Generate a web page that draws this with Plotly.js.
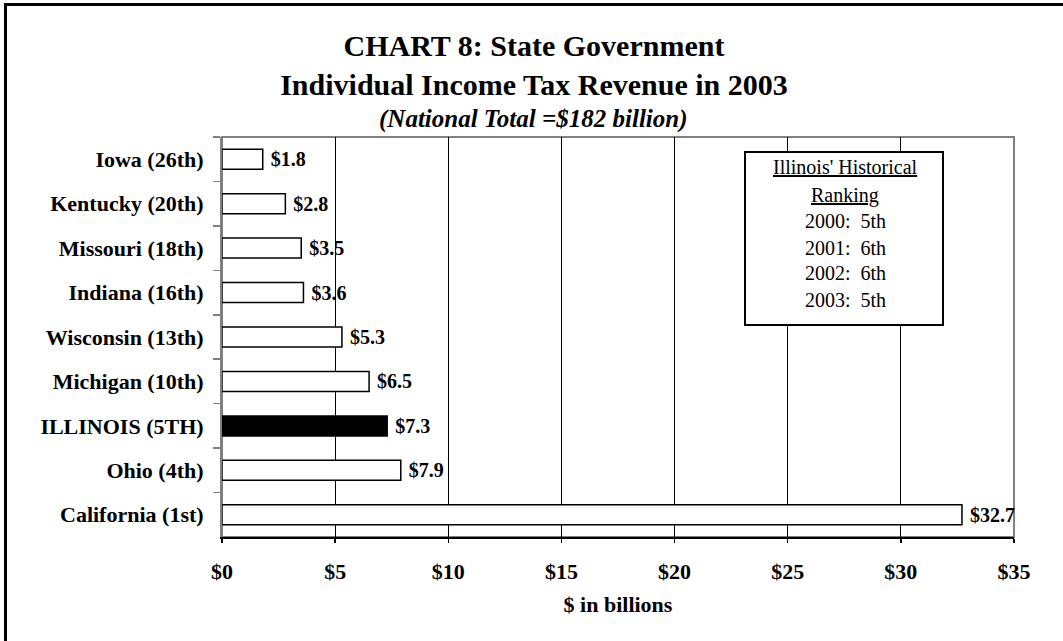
<!DOCTYPE html>
<html>
<head>
<meta charset="utf-8">
<script src="https://cdn.plot.ly/plotly-3.0.1.min.js"></script>
<style>
  html, body { margin: 0; padding: 0; overflow: hidden; background: #fff; }
  #chart { width: 1063px; height: 641px; }
  #frame { position: absolute; left: 4px; top: 3px; width: 1200px; height: 800px;
           border: 3px solid #000; pointer-events: none; }
</style>
</head>
<body>
<div id="chart"></div>
<div id="frame"></div>
<script>
// Categories listed top to bottom as in the chart
var states = ["Iowa (26th)", "Kentucky (20th)", "Missouri (18th)", "Indiana (16th)",
              "Wisconsin (13th)", "Michigan (10th)", "ILLINOIS (5TH)", "Ohio (4th)", "California (1st)"];
var revenue = [1.8, 2.8, 3.5, 3.6, 5.3, 6.5, 7.3, 7.9, 32.7];
var highlight = "ILLINOIS (5TH)";
var xTickVals = [0, 5, 10, 15, 20, 25, 30, 35];
var xTickText = ["$0", "$5", "$10", "$15", "$20", "$25", "$30", "$35"];
var boxLines = ["<u>Illinois' Historical</u>", "<u>Ranking</u>",
                "2000:  5th", "2001:  6th", "2002:  6th", "2003:  5th"];

var serif = "'Liberation Serif', 'Times New Roman', Times, serif";

var fills = states.map(function (s) { return s === highlight ? "#000000" : "#ffffff"; });

var trace = {
  type: "bar",
  orientation: "h",
  y: states,
  x: revenue,
  width: 0.45,
  marker: { color: fills, line: { color: "#000000", width: 1.5 } },
  texttemplate: "\u00a0$%{x:.1f}",
  textposition: "outside",
  constraintext: "none",
  cliponaxis: false,
  textfont: { family: serif, size: 20, color: "#000", weight: "bold" },
  hoverinfo: "none"
};

// Legend-box text lines positioned inside the box
var lineY = [0.925, 0.855, 0.79, 0.7225, 0.66, 0.5925];
var annotations = boxLines.map(function (t, i) {
  return {
    xref: "paper", yref: "paper", x: 0.787, y: lineY[i],
    xanchor: "center", yanchor: "middle", showarrow: false,
    text: t, font: { family: serif, size: 20, color: "#000" }
  };
});
annotations.push({
  xref: "paper", yref: "paper", x: (533 - 222) / 792, xanchor: "center",
  y: (537 - 119) / 400, yanchor: "middle", showarrow: false,
  text: "<b><i>(National Total =$182 billion)</i></b>",
  font: { family: serif, size: 25, color: "#000" }
});

var layout = {
  width: 1063, height: 641,
  margin: { l: 222, r: 49, t: 137, b: 104 },
  paper_bgcolor: "#ffffff", plot_bgcolor: "#ffffff",
  showlegend: false,
  font: { family: serif, color: "#000" },
  title: {
    text: "<b>CHART 8: State Government<br>Individual Income Tax Revenue in 2003</b>",
    font: { family: serif, size: 30, color: "#000" },
    xref: "container", x: 534 / 1063, xanchor: "center",
    yref: "container", y: 1 - 56 / 641, yanchor: "middle"
  },
  xaxis: {
    range: [0, 35], tickvals: xTickVals, ticktext: xTickText,
    showgrid: true, gridcolor: "#000", gridwidth: 1,
    zeroline: false,
    showline: true, linecolor: "#000", linewidth: 1.5,
    ticks: "outside", ticklen: 4, tickcolor: "#000", tickwidth: 1.5,
    ticklabelstandoff: 10,
    tickfont: { family: serif, size: 22, color: "#000", weight: "bold" },
    title: { text: "<b>$ in billions</b>", font: { family: serif, size: 22, color: "#000" }, standoff: 13 },
    fixedrange: true
  },
  yaxis: {
    type: "category", autorange: "reversed",
    showgrid: false, zeroline: false,
    showline: true, linecolor: "#808080", linewidth: 2,
    ticks: "outside", tickson: "boundaries", ticklen: 7, tickcolor: "#808080", tickwidth: 1.5,
    ticklabelstandoff: 12,
    tickfont: { family: serif, size: 22, color: "#000", weight: "bold" },
    fixedrange: true
  },
  shapes: [
    { type: "rect", xref: "paper", yref: "paper", x0: 0, x1: 1, y0: 0, y1: 1,
      line: { color: "#808080", width: 2 }, layer: "below" },
    { type: "rect", xref: "paper", yref: "paper",
      x0: (745 - 222) / 792, x1: (943 - 222) / 792,
      y0: (537 - 325) / 400, y1: (537 - 152) / 400,
      fillcolor: "#ffffff", line: { color: "#000", width: 2 }, layer: "above" }
  ],
  annotations: annotations,
  bargap: 0.55
};

Plotly.newPlot("chart", [trace], layout, { staticPlot: true, displayModeBar: false });
</script>
</body>
</html>
